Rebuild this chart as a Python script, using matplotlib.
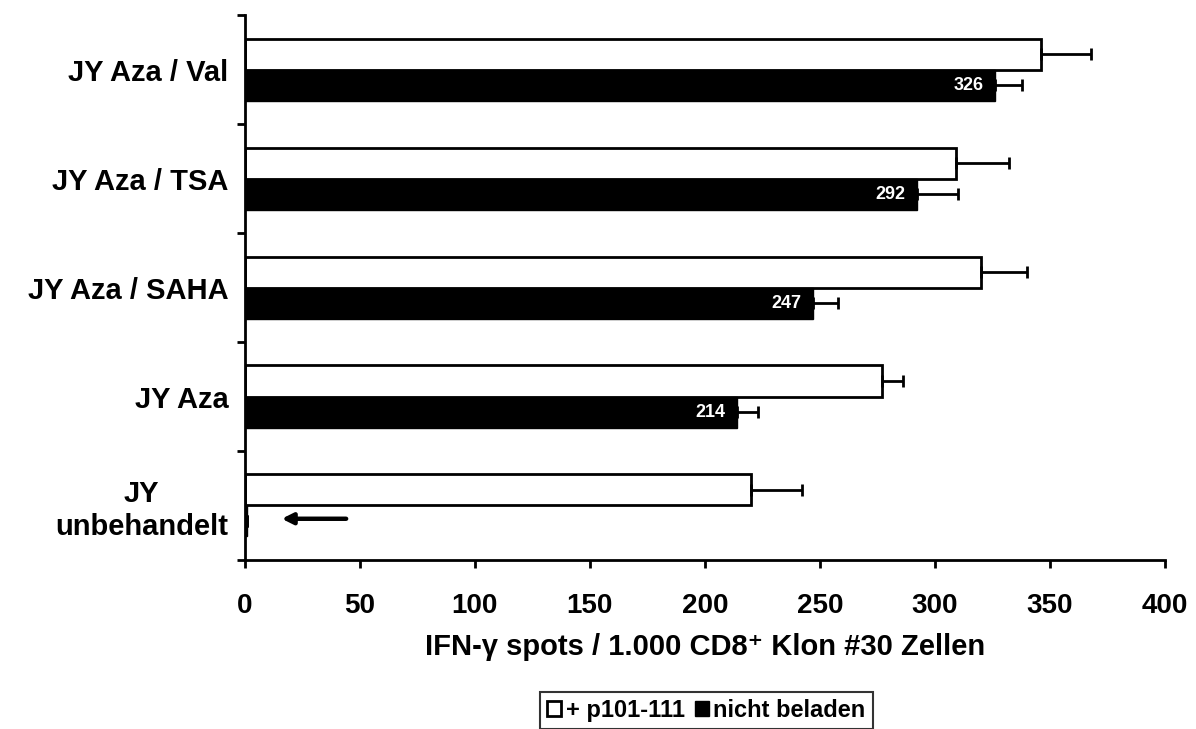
import matplotlib.pyplot as plt
from matplotlib.patches import Patch
import numpy as np

plt.rcParams['font.family'] = ['Liberation Sans', 'DejaVu Sans']
plt.rcParams['font.weight'] = 'bold'

# Groups, top to bottom
groups = ['JY Aza / Val', 'JY Aza / TSA', 'JY Aza / SAHA', 'JY Aza', 'JY\nunbehandelt']
loaded = [346, 309, 320, 277, 220]          # + p101-111
loaded_err = [22, 23, 20, 9, 22]
unloaded = [326, 292, 247, 214, 1]          # nicht beladen
unloaded_err = [12, 18, 11, 9, 0]
unloaded_labels = ['326', '292', '247', '214', '']

fig = plt.figure(figsize=(11.96, 7.29), dpi=100)
ax = fig.add_axes([0.2048, 0.232, 0.7692, 0.747])

y = np.arange(len(groups))
h = 0.285

ax.barh(y - h / 2, loaded, height=h, color='white', edgecolor='black', linewidth=2,
        xerr=[np.zeros(len(groups)), loaded_err],
        error_kw=dict(ecolor='black', elinewidth=2, capsize=4, capthick=2))
ax.barh(y + h / 2, unloaded, height=h, color='black', edgecolor='black', linewidth=1,
        xerr=[np.zeros(len(groups)), unloaded_err],
        error_kw=dict(ecolor='black', elinewidth=2, capsize=4, capthick=2))

for yi, v, lab in zip(y, unloaded, unloaded_labels):
    if lab:
        ax.text(v - 5, yi + h / 2, lab, color='white', ha='right', va='center',
                fontsize=13, fontweight='bold')

# arrow pointing at the (near zero) unloaded bar of the untreated cells
ax.annotate('', xy=(16, y[-1] + h / 2 - 0.02), xytext=(44, y[-1] + h / 2 - 0.02),
            arrowprops=dict(arrowstyle='-|>', color='black', lw=3.2,
                            mutation_scale=16, shrinkA=0, shrinkB=0))

ax.set_xlim(0, 400)
ax.set_ylim(len(groups) - 0.5, -0.5)
ax.set_xticks(np.arange(0, 401, 50))
ax.set_yticks(np.arange(-0.5, len(groups), 1.0))
ax.set_yticklabels([])
ax.set_yticks(y, minor=True)
ax.set_yticklabels(groups, minor=True, fontsize=21, fontweight='bold',
                   multialignment='center')
ax.tick_params(axis='y', which='minor', length=0, pad=12)
ax.tick_params(axis='y', which='major', direction='out', length=6, width=2)
ax.tick_params(axis='x', direction='out', length=6, width=2, labelsize=20, pad=18)
for lab in ax.get_xticklabels():
    lab.set_fontweight('bold')

for side in ['top', 'right']:
    ax.spines[side].set_visible(False)
for side in ['left', 'bottom']:
    ax.spines[side].set_linewidth(2)

ax.set_xlabel('IFN-γ spots / 1.000 CD8⁺ Klon #30 Zellen',
              fontsize=21, fontweight='bold', labelpad=10)

handles = [Patch(facecolor='white', edgecolor='black', linewidth=2),
           Patch(facecolor='black', edgecolor='black')]
leg = fig.legend(handles, ['+ p101-111', 'nicht beladen'], ncol=2,
                 loc='upper center', bbox_to_anchor=(0.5907, 0.051),
                 fontsize=17, frameon=True, fancybox=False, edgecolor='black',
                 handlelength=0.6, handleheight=0.6, handletextpad=0.2,
                 columnspacing=0.4, borderpad=0.3, borderaxespad=0)
leg.get_frame().set_linewidth(1.5)
for t in leg.get_texts():
    t.set_fontweight('bold')

fig.savefig('out.png', dpi=100)
